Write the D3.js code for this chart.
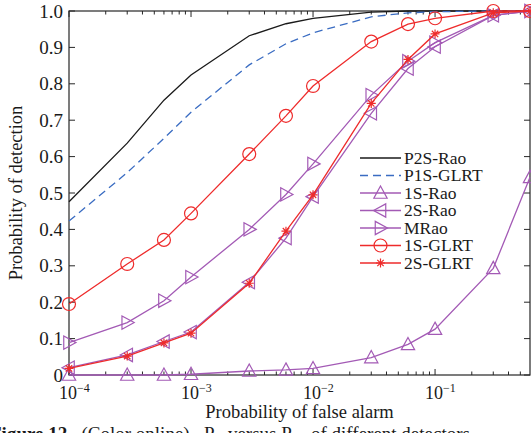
<!DOCTYPE html>
<html>
<head>
<style>
  body { margin: 0; background: #fff; }
  text { font-family: "Liberation Serif", "Times New Roman", serif; fill: #1a1a1a; }
</style>
<script src="https://cdnjs.cloudflare.com/ajax/libs/d3/7.8.5/d3.min.js"></script>
</head>
<body>
<svg width="531" height="433"></svg>
<script>
// false alarm probabilities (x) shared by every curve
var pfa = [1e-4, 3e-4, 6e-4, 1e-3, 3e-3, 6e-3, 1e-2, 3e-2, 6e-2, 1e-1, 3e-1, 6e-1];

var p2sRao   = [0.476, 0.637, 0.755, 0.824, 0.932, 0.965, 0.980, 0.997, 1.0, 1.0, 1.0, 1.0];
var p1sGlrt  = [0.423, 0.556, 0.650, 0.722, 0.852, 0.910, 0.940, 0.984, 0.995, 0.998, 1.0, 1.0];
var s1Rao    = [0.0, 0.0, 0.0, 0.002, 0.011, 0.014, 0.018, 0.048, 0.084, 0.126, 0.293, 0.543];
var s2Rao    = [0.020, 0.055, 0.092, 0.118, 0.255, 0.376, 0.490, 0.719, 0.842, 0.902, 0.988, 1.0];
var mRao     = [0.089, 0.144, 0.204, 0.269, 0.400, 0.496, 0.580, 0.769, 0.862, 0.913, 0.988, 1.0];
var s1Glrt   = [0.195, 0.305, 0.371, 0.444, 0.607, 0.712, 0.794, 0.916, 0.964, 0.980, 1.0, 1.0];
var s2Glrt   = [0.018, 0.052, 0.088, 0.115, 0.252, 0.395, 0.495, 0.746, 0.867, 0.937, 0.995, 1.0];

var yTicks = [0, 0.1, 0.2, 0.3, 0.4, 0.5, 0.6, 0.7, 0.8, 0.9, 1.0];
var yTickLabels = ["0", "0.1", "0.2", "0.3", "0.4", "0.5", "0.6", "0.7", "0.8", "0.9", "1.0"];
var xMajor = [1e-4, 1e-3, 1e-2, 1e-1];
var xExp = ["\u22124", "\u22123", "\u22122", "\u22121"];

var purple = "#a35ab5", red = "#ee2b2b", blue = "#3a6cc2";

var series = [
  { name: "P2S-Rao", v: p2sRao, color: "#1a1a1a", dash: null, marker: null },
  { name: "P1S-GLRT", v: p1sGlrt, color: blue, dash: "8,5", marker: null },
  { name: "1S-Rao", v: s1Rao, color: purple, dash: null, marker: "up" },
  { name: "2S-Rao", v: s2Rao, color: purple, dash: null, marker: "left" },
  { name: "MRao", v: mRao, color: purple, dash: null, marker: "right" },
  { name: "1S-GLRT", v: s1Glrt, color: red, dash: null, marker: "circle" },
  { name: "2S-GLRT", v: s2Glrt, color: red, dash: null, marker: "star" }
];

var svg = d3.select("svg");
var L = 69, R = 530, T = 11, B = 375;

var x = d3.scaleLog().domain([1e-4, 0.6]).range([L, R]);
var y = d3.scaleLinear().domain([0, 1]).range([B, T]);

function markerPath(type) {
  var s = 7;
  if (type === "up") return "M0," + (-s) + "L" + (s * 0.95) + "," + (s * 0.75) + "L" + (-s * 0.95) + "," + (s * 0.75) + "Z";
  if (type === "left") return "M" + (-s) + ",0L" + (s * 0.75) + "," + (-s * 0.95) + "L" + (s * 0.75) + "," + (s * 0.95) + "Z";
  if (type === "right") return "M" + s + ",0L" + (-s * 0.75) + "," + (-s * 0.95) + "L" + (-s * 0.75) + "," + (s * 0.95) + "Z";
  if (type === "circle") return d3.symbol().type(d3.symbolCircle).size(Math.PI * 42)();
  if (type === "star") {
    var a = 4.5, b = 3.2;
    return "M" + (-a) + ",0L" + a + ",0M0," + (-a) + "L0," + a +
      "M" + (-b) + "," + (-b) + "L" + b + "," + b + "M" + (-b) + "," + b + "L" + b + "," + (-b);
  }
  return "";
}

// axes box + inward ticks
var axisColor = "#262626";
var g = svg.append("g");

var minors = [];
[1e-4, 1e-3, 1e-2, 1e-1].forEach(function (d) {
  for (var k = 2; k <= 9; k++) { if (d * k <= 0.6) minors.push(d * k); }
});

g.selectAll(".minB").data(minors).enter().append("line")
  .attr("x1", d => x(d)).attr("x2", d => x(d)).attr("y1", B).attr("y2", B - 3.5)
  .attr("stroke", axisColor);
g.selectAll(".minT").data(minors).enter().append("line")
  .attr("x1", d => x(d)).attr("x2", d => x(d)).attr("y1", T).attr("y2", T + 3.5)
  .attr("stroke", axisColor);
g.selectAll(".majB").data(xMajor).enter().append("line")
  .attr("x1", d => x(d)).attr("x2", d => x(d)).attr("y1", B).attr("y2", B - 6)
  .attr("stroke", axisColor);
g.selectAll(".majT").data(xMajor).enter().append("line")
  .attr("x1", d => x(d)).attr("x2", d => x(d)).attr("y1", T).attr("y2", T + 6)
  .attr("stroke", axisColor);
g.selectAll(".yl").data(yTicks).enter().append("line")
  .attr("x1", L).attr("x2", L + 6).attr("y1", d => y(d)).attr("y2", d => y(d))
  .attr("stroke", axisColor);
g.selectAll(".yr").data(yTicks).enter().append("line")
  .attr("x1", R - 6).attr("x2", R).attr("y1", d => y(d)).attr("y2", d => y(d))
  .attr("stroke", axisColor);

g.append("rect").attr("x", L).attr("y", T).attr("width", R - L).attr("height", B - T)
  .attr("fill", "none").attr("stroke", axisColor).attr("stroke-width", 1.2);

// tick labels
g.selectAll(".ylab").data(yTicks).enter().append("text")
  .attr("x", L - 6).attr("y", d => y(d) + 6.5)
  .attr("text-anchor", "end").attr("font-size", 19)
  .text((d, i) => yTickLabels[i]);

var xl = g.selectAll(".xlab").data(xMajor).enter().append("text")
  .attr("x", d => x(d) - 10).attr("y", 399)
  .attr("font-size", 18);
xl.append("tspan").text("10");
xl.append("tspan").attr("dy", -7).attr("font-size", 12).text((d, i) => xExp[i]);

// axis titles
svg.append("text").attr("x", (L + R) / 2).attr("y", 418)
  .attr("text-anchor", "middle").attr("font-size", 18.5)
  .text("Probability of false alarm");
svg.append("text").attr("transform", "translate(22," + ((T + B) / 2) + ") rotate(-90)")
  .attr("text-anchor", "middle").attr("font-size", 18.5)
  .text("Probability of detection");

// curves
var line = d3.line().x((d, i) => x(pfa[i])).y(d => y(d));
series.forEach(function (s) {
  var sg = svg.append("g");
  sg.append("path").datum(s.v).attr("d", line)
    .attr("fill", "none").attr("stroke", s.color).attr("stroke-width", 1.3)
    .attr("stroke-dasharray", s.dash);
  if (s.marker) {
    sg.selectAll("path.m").data(s.v).enter().append("path").attr("class", "m")
      .attr("transform", (d, i) => "translate(" + x(pfa[i]) + "," + y(d) + ")")
      .attr("d", markerPath(s.marker))
      .attr("fill", "none").attr("stroke", s.color).attr("stroke-width", 1.2);
  }
});

// legend (no frame)
var leg = svg.append("g");
series.forEach(function (s, i) {
  var ly = 158 + i * 17.5;
  leg.append("line").attr("x1", 360).attr("x2", 401).attr("y1", ly).attr("y2", ly)
    .attr("stroke", s.color).attr("stroke-width", 1.3).attr("stroke-dasharray", s.dash);
  if (s.marker) {
    leg.append("path").attr("transform", "translate(380.5," + ly + ")")
      .attr("d", markerPath(s.marker))
      .attr("fill", "none").attr("stroke", s.color).attr("stroke-width", 1.2);
  }
  leg.append("text").attr("x", 404).attr("y", ly + 5.5).attr("font-size", 17.5).text(s.name);
});

// caption, cut off by the bottom edge as in the source
var cap = svg.append("text").attr("x", -10).attr("y", 440).attr("font-size", 19);
cap.append("tspan").attr("font-weight", "bold").text("Figure 12");
cap.append("tspan").text("\u2002 (Color online)\u2002 P");
cap.append("tspan").attr("font-size", 12).attr("dy", 4).text("D");
cap.append("tspan").attr("dy", -4).text(" versus P");
cap.append("tspan").attr("font-size", 12).attr("dy", 4).text("FA");
cap.append("tspan").attr("dy", -4).text(" of different detectors");
</script>
</body>
</html>
